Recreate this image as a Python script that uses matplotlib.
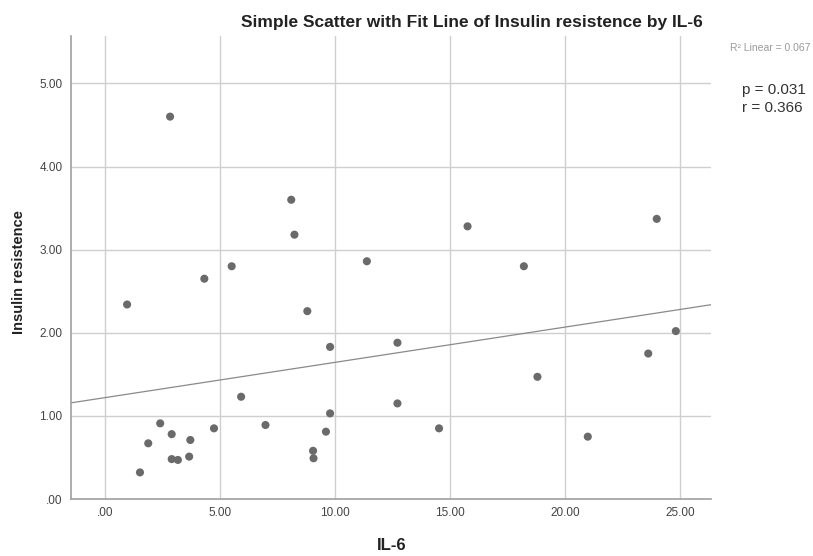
import matplotlib

matplotlib.use("Agg")

import matplotlib.pyplot as plt

# IL-6 (x) and insulin resistance (y)
il6 = [0.95, 2.82, 1.51, 1.87, 2.39, 2.89, 2.89, 3.16, 3.70, 3.65,
       4.31, 4.73, 5.50, 5.91, 6.97, 8.09, 8.23, 8.79, 9.04, 9.06,
       9.60, 9.78, 9.78, 11.38, 12.71, 12.71, 14.52, 15.76, 18.21, 18.80,
       20.99, 23.62, 23.99, 24.82]
insulin = [2.34, 4.60, 0.32, 0.67, 0.91, 0.78, 0.48, 0.47, 0.71, 0.51,
           2.65, 0.85, 2.80, 1.23, 0.89, 3.60, 3.18, 2.26, 0.58, 0.49,
           0.81, 1.83, 1.03, 2.86, 1.88, 1.15, 0.85, 3.28, 2.80, 1.47,
           0.75, 1.75, 3.37, 2.02]

# fit line as drawn in the picture
fit_intercept = 1.22
fit_slope = 0.0424

x_ticks = [0, 5, 10, 15, 20, 25]
y_ticks = [0, 1, 2, 3, 4, 5]
x_tick_labels = [".00", "5.00", "10.00", "15.00", "20.00", "25.00"]
y_tick_labels = [".00", "1.00", "2.00", "3.00", "4.00", "5.00"]

r2_text = "R\u00b2 Linear = 0.067"
stats_text = "p = 0.031\nr = 0.366"

plt.rcParams["font.family"] = ["Liberation Sans", "DejaVu Sans"]

fig = plt.figure(figsize=(8.13, 5.56), dpi=100)
ax = fig.add_axes([71 / 813, 1 - 499 / 556, (711 - 71) / 813, (499 - 36) / 556])

ax.set_xlim(-1.49, 26.35)
ax.set_ylim(0, 5.57)

ax.set_axisbelow(True)
ax.grid(True, color="#cfcfcf", linewidth=1.0)

ax.scatter(il6, insulin, s=34, color="#6a6a6a", edgecolors="none", zorder=3)
ax.axline((0, fit_intercept), slope=fit_slope, color="#8a8a8a", linewidth=0.9, zorder=2)

ax.set_xticks(x_ticks, x_tick_labels)
ax.set_yticks(y_ticks, y_tick_labels)
ax.tick_params(length=0, labelsize=8.5, labelcolor="#444444", pad=6)

for spine in ("top", "right"):
    ax.spines[spine].set_visible(False)
for spine in ("left", "bottom"):
    ax.spines[spine].set_color("#a0a0a0")
    ax.spines[spine].set_linewidth(1.2)

ax.set_xlabel("IL-6", fontsize=12, fontweight="bold", color="#222222", va="center")
ax.xaxis.set_label_coords((392 - 71) / 640, -(545 - 499) / 463)
ax.set_ylabel("Insulin resistence", fontsize=10.5, fontweight="bold", color="#222222", va="center")
ax.yaxis.set_label_coords(-(71 - 19) / 640, (499 - 272) / 463)

fig.text(472 / 813, 1 - 22 / 556, "Simple Scatter with Fit Line of Insulin resistence by IL-6",
         ha="center", va="center", fontsize=12.5, fontweight="bold", color="#222222")
fig.text(810 / 813, 1 - 48 / 556, r2_text, ha="right", va="center", fontsize=7.5, color="#9a9a9a")
fig.text(742 / 813, 1 - 99 / 556, stats_text, ha="left", va="center", fontsize=11,
         color="#333333", linespacing=1.3)

fig.savefig("out.png", dpi=100)
